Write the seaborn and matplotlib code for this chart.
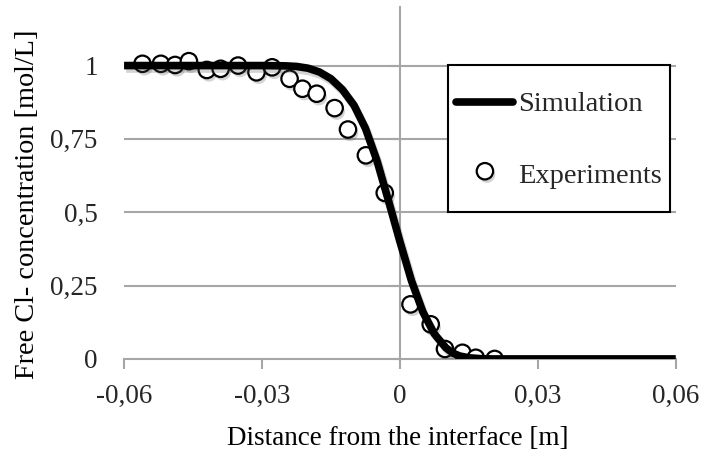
import matplotlib
matplotlib.use("Agg")
import matplotlib.pyplot as plt
import matplotlib.patheffects as pe
from matplotlib.legend_handler import HandlerLine2D
import seaborn as sns
import pandas as pd

# Simulated free chloride profile across the interface
sim_x = [-0.06, -0.05, -0.04, -0.03, -0.0275, -0.025, -0.0225, -0.02, -0.0175,
         -0.015, -0.0125, -0.01, -0.0075, -0.005, -0.0025, 0.0, 0.0025, 0.005,
         0.0075, 0.01, 0.0115, 0.013, 0.015, 0.0175, 0.02, 0.025, 0.03, 0.04,
         0.05, 0.06]
sim_c = [1.0, 1.0, 1.0, 1.0, 0.9995, 0.999, 0.997, 0.991, 0.978,
         0.955, 0.918, 0.865, 0.786, 0.676, 0.540, 0.400, 0.267, 0.160,
         0.085, 0.038, 0.020, 0.010, 0.004, 0.001, 0.0, 0.0, 0.0, 0.0,
         0.0, 0.0]

# Measured free chloride concentrations
exp_x = [-0.0560, -0.0520, -0.0489, -0.0459, -0.0420, -0.0390, -0.0352,
         -0.0312, -0.0278, -0.0240, -0.0212, -0.0181, -0.0142, -0.0113,
         -0.0074, -0.0033, 0.0023, 0.0067, 0.0098, 0.0136, 0.0165, 0.0206]
exp_c = [1.006, 1.006, 1.002, 1.015, 0.985, 0.989, 1.000, 0.977, 0.994,
         0.955, 0.921, 0.904, 0.855, 0.782, 0.694, 0.566, 0.186, 0.118,
         0.034, 0.021, 0.004, 0.0]

x_ticks = [-0.06, -0.03, 0.0, 0.03, 0.06]
x_tick_labels = ["-0,06", "-0,03", "0", "0,03", "0,06"]
y_ticks = [0.0, 0.25, 0.5, 0.75, 1.0]
y_tick_labels = ["0", "0,25", "0,5", "0,75", "1"]

sim = pd.DataFrame({"x": sim_x, "c": sim_c})
exp = pd.DataFrame({"x": exp_x, "c": exp_c})

sns.set_theme(style="white")
plt.rcParams["font.family"] = ["Liberation Serif", "DejaVu Serif"]

GRID = "#A6A6A6"
FS = 19.5


class CenteredLineHandler(HandlerLine2D):
    """Line legend handle centred on the label text in a tall legend row."""

    def create_artists(self, legend, orig_handle, xdescent, ydescent,
                       width, height, fontsize, trans):
        artists = super().create_artists(legend, orig_handle, xdescent,
                                         ydescent + 14.4, width, height,
                                         fontsize, trans)
        for a in artists:
            a.set_solid_capstyle("round")
            a.set_path_effects([])
        return artists


fig = plt.figure(figsize=(7.01, 4.59), dpi=100)
ax = fig.add_axes([0.177, 0.218, 0.787, 0.767])

shadow_pts = [pe.SimplePatchShadow(offset=(1.5, -2.5), shadow_rgbFace="#555555", alpha=0.25), pe.Normal()]
shadow_line = [pe.SimpleLineShadow(offset=(1.5, -2.5), shadow_color="#555555", alpha=0.25), pe.Normal()]

sns.scatterplot(data=exp, x="x", y="c", ax=ax, s=140, marker="o",
                facecolor="white", edgecolor="black", linewidth=1.6,
                label="Experiments", zorder=3)
ax.collections[-1].set_path_effects(shadow_pts)

sns.lineplot(data=sim, x="x", y="c", ax=ax, color="black", linewidth=5.5,
             label="Simulation", zorder=4, sort=False)
sim_line = ax.lines[-1]
sim_line.set_path_effects(shadow_line)
sim_line.set_solid_capstyle("butt")
sim_line.set_solid_joinstyle("round")

ax.set_xlim(-0.06, 0.06)
ax.set_ylim(0, 1.2)

# horizontal gridlines
for yv in y_ticks[1:]:
    ax.axhline(yv, color=GRID, linewidth=1.5, zorder=1)

for s in ["top", "right"]:
    ax.spines[s].set_visible(False)
for s in ["bottom", "left"]:
    ax.spines[s].set_color(GRID)
    ax.spines[s].set_linewidth(1.5)
    ax.spines[s].set_zorder(1)
# vertical axis crosses at x = 0
ax.spines["left"].set_position(("data", 0.0))

ax.set_xticks(x_ticks)
ax.set_xticklabels(x_tick_labels, fontsize=FS)
ax.tick_params(axis="x", direction="out", length=7, width=1.5, color=GRID,
               pad=11, bottom=True)
ax.set_yticks(y_ticks)
ax.tick_params(axis="y", direction="out", length=7, width=1.5, color=GRID,
               left=True, labelleft=False)

# value labels sit at the left edge of the plot area
lab = ax.secondary_yaxis("left")
lab.set_yticks(y_ticks)
lab.set_yticklabels(y_tick_labels, fontsize=FS)
lab.tick_params(axis="y", length=0, pad=19)
for s in lab.spines.values():
    s.set_visible(False)

ax.set_xlabel("Distance from the interface [m]", fontsize=FS, color="black")
ax.xaxis.set_label_coords(0.496, -0.19)
ax.set_ylabel("Free Cl- concentration [mol/L]", fontsize=20.3, color="black")
ax.yaxis.set_label_coords(-0.152, 0.44)

h, l = ax.get_legend_handles_labels()
order = [l.index("Simulation"), l.index("Experiments")]
leg = ax.legend([h[i] for i in order], [l[i] for i in order],
                loc="upper left", bbox_to_anchor=(0.587, 0.835),
                frameon=True, fancybox=False, edgecolor="black",
                fontsize=20.5, borderpad=0.3, handlelength=2.0,
                handletextpad=0.15, handleheight=2.8, labelspacing=0.45,
                borderaxespad=0, scatterpoints=1, scatteryoffsets=[0.2],
                handler_map={sim_line: CenteredLineHandler()})
leg.get_frame().set_linewidth(1.5)
leg.get_frame().set_facecolor("white")
leg.get_frame().set_alpha(1)
leg.set_zorder(5)

fig.savefig("out.png", dpi=100)
